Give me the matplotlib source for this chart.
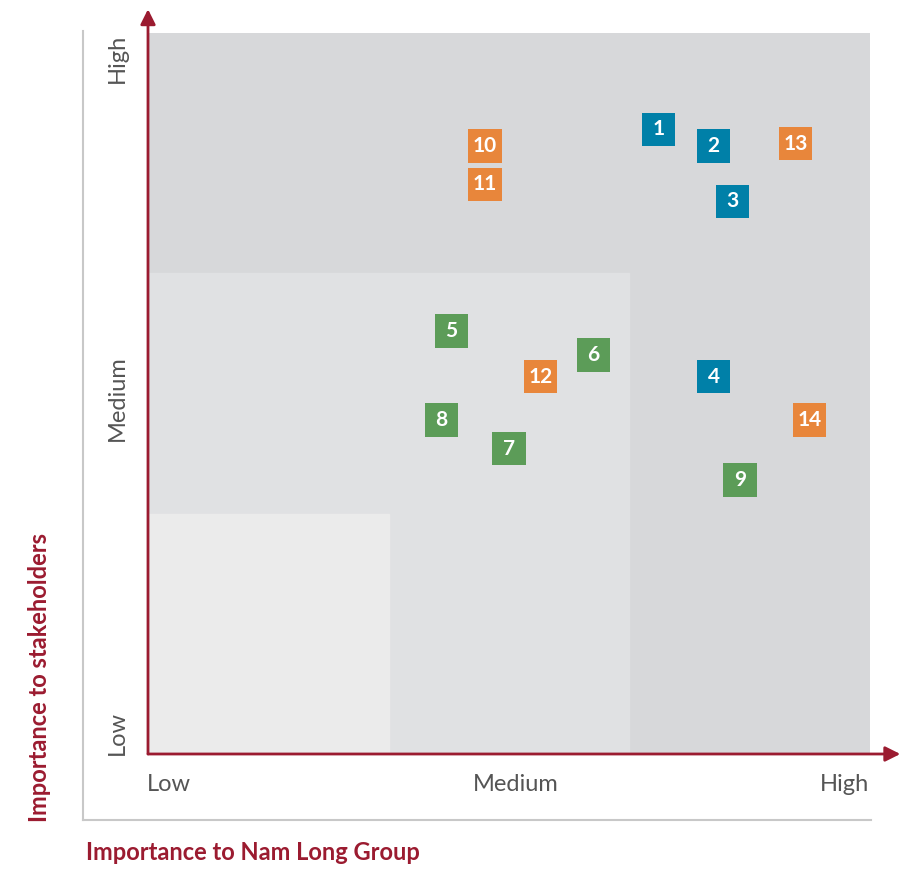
import matplotlib.pyplot as plt
from matplotlib.patches import Rectangle
from matplotlib.lines import Line2D

plt.rcParams['font.family'] = ['Lato', 'DejaVu Sans']

# materiality topics: number, importance to company (x), importance to stakeholders (y), group
labels = ["1", "2", "3", "4", "5", "6", "7", "8", "9", "10", "11", "12", "13", "14"]
x_vals = [2.12, 2.35, 2.43, 2.35, 1.26, 1.85, 1.50, 1.22, 2.46, 1.40, 1.40, 1.63, 2.69, 2.75]
y_vals = [2.60, 2.53, 2.30, 1.57, 1.76, 1.66, 1.27, 1.39, 1.14, 2.53, 2.37, 1.57, 2.54, 1.39]
groups = ["b", "b", "b", "b", "g", "g", "g", "g", "g", "o", "o", "o", "o", "o"]
level_names = ["Low", "Medium", "High"]

colors = {"b": "#0080a8", "g": "#5c9c58", "o": "#e8863b"}
red = "#9b1b30"

fig = plt.figure(figsize=(9.21, 8.69), dpi=100)
ax = fig.add_axes([148 / 921, 1 - 754 / 869, 722 / 921, 721 / 869])
ax.set_xlim(0, 3)
ax.set_ylim(0, 3)
ax.axis("off")

# background zones
ax.add_patch(Rectangle((0, 0), 3, 3, color="#d7d8da", zorder=0))
ax.add_patch(Rectangle((0, 0), 2, 2, color="#e0e1e3", zorder=1))
ax.add_patch(Rectangle((0, 0), 1, 1, color="#ebebeb", zorder=2))

# red axis arrows
ax.annotate("", xy=(0, 1.033), xytext=(0, 0), xycoords="axes fraction",
            arrowprops=dict(arrowstyle="-|>,head_length=0.9,head_width=0.45", color=red, lw=2,
                            shrinkA=0, shrinkB=0), zorder=5)
ax.annotate("", xy=(1.042, 0), xytext=(0, 0), xycoords="axes fraction",
            arrowprops=dict(arrowstyle="-|>,head_length=0.9,head_width=0.45", color=red, lw=2,
                            shrinkA=0, shrinkB=0), zorder=5)

# grey frame
fig.add_artist(Line2D([83 / 921, 83 / 921], [1 - 31 / 869, 1 - 820 / 869], color="#c8c8c8", lw=1.5))
fig.add_artist(Line2D([83 / 921, 871 / 921], [1 - 820 / 869, 1 - 820 / 869], color="#c8c8c8", lw=1.5))

for lab, x, y, g in zip(labels, x_vals, y_vals, groups):
    ax.scatter(x, y, marker="s", s=570, color=colors[g], edgecolors="none", zorder=6)
    ax.text(x, y, lab, color="white", fontsize=15, fontweight="bold",
            ha="center", va="center", zorder=7)

# level labels
grey = "#555555"
xpos = [0.087, 1.53, 2.896]
for name, xp in zip(level_names, xpos):
    ax.text(xp, -0.125, name, color=grey, fontsize=17, ha="center", va="center")
ypos = [0.087, 1.48, 2.896]
for name, yp in zip(level_names, ypos):
    ax.text(-0.129, yp, name, color=grey, fontsize=17, ha="center", va="center", rotation=90)

fig.text(86 / 921, 1 - 852 / 869, "Importance to Nam Long Group", color=red,
         fontsize=17, fontweight="bold", ha="left", va="center")
fig.text(40 / 921, 1 - 678 / 869, "Importance to stakeholders", color=red,
         fontsize=17, fontweight="bold", ha="center", va="center", rotation=90)

fig.savefig("out.png", dpi=100)
